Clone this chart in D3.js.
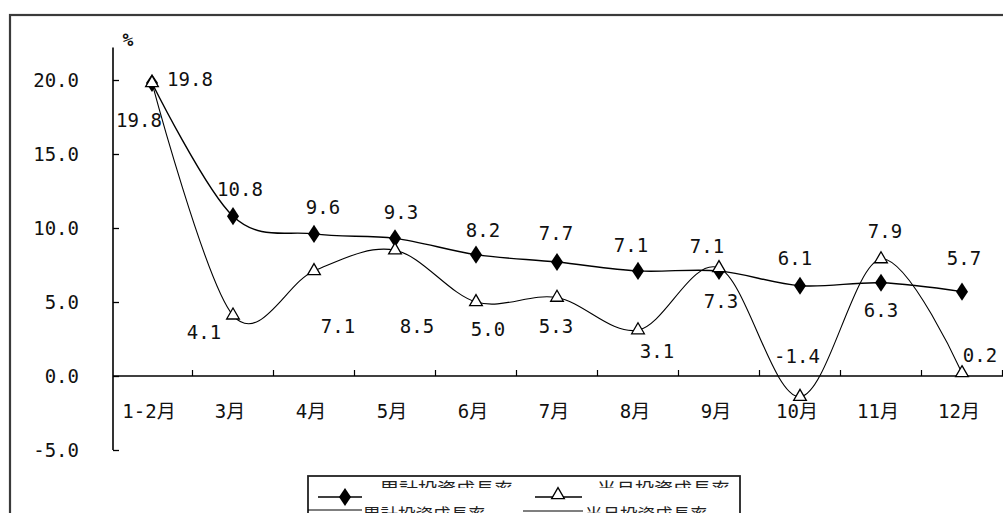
<!DOCTYPE html>
<html>
<head>
<meta charset="utf-8">
<script src="https://cdn.jsdelivr.net/npm/d3@7"></script>
<style>
  html, body { margin: 0; padding: 0; background: #fff; overflow: hidden; }
  svg { display: block; }
  .num { font-family: "DejaVu Sans Mono", "Noto Sans CJK JP", monospace; font-size: 19px; fill: #111; }
  .cjk { font-family: "Noto Sans CJK JP", sans-serif; fill: #222; }
</style>
</head>
<body>
<svg id="chart" width="1003" height="513"></svg>
<script>
// Monthly periods
const months = ["1-2月", "3月", "4月", "5月", "6月", "7月", "8月", "9月", "10月", "11月", "12月"];
// Cumulative investment growth (%)
const cumulativeGrowth = [19.8, 10.8, 9.6, 9.3, 8.2, 7.7, 7.1, 7.1, 6.1, 6.3, 5.7];
// Single-month investment growth (%)
const monthlyGrowth = [19.8, 4.1, 7.1, 8.5, 5.0, 5.3, 3.1, 7.3, -1.4, 7.9, 0.2];
// Value axis ticks
const yTicks = [20, 15, 10, 5, 0, -5];
const seriesNames = ["累計投資成長率", "当月投資成長率"];

// Hand-placed value-label offsets (dx, dy from the point to the label baseline centre)
const cumLabelOffsets = [[38, 3], [7, -20], [9, -20], [6, -19], [7, -18], [-1, -22],
                         [-7, -19], [-12, -18], [-5, -21], [0, 34], [2, -27]];
const monLabelOffsets = [[-13, 44], [-29, 24], [24, 62], [22, 83], [12, 34], [-1, 35],
                         [19, 28], [2, 40], [-3, -34], [4, -21], [18, -11]];

const svg = d3.select("#chart");

// Outer frame
svg.append("rect")
  .attr("x", 10).attr("y", 15).attr("width", 1020).attr("height", 540)
  .attr("fill", "none").attr("stroke", "#3a3a3a").attr("stroke-width", 2.2);

const axisX = 113;
const x = d3.scaleBand().domain(months).range([111.5, 1002.5]).paddingInner(0).paddingOuter(0);
const cx = d => x(d) + x.bandwidth() / 2;
const y = d3.scaleLinear().domain([-5, 20]).range([450, 80]);
const yTopValue = 22.2;

// Value axis
svg.append("line")
  .attr("x1", axisX).attr("x2", axisX)
  .attr("y1", y(yTopValue)).attr("y2", y(-5))
  .attr("stroke", "#000").attr("stroke-width", 1.6);

const yAxis = d3.axisRight(y).tickValues(yTicks).tickSize(6).tickFormat("");
const gy = svg.append("g").attr("transform", `translate(${axisX},0)`).call(yAxis);
gy.select(".domain").remove();
gy.selectAll(".tick line").attr("stroke", "#000").attr("stroke-width", 1.3);

svg.append("g").selectAll("text")
  .data(yTicks).join("text")
  .attr("class", "num")
  .attr("x", 79).attr("y", d => y(d) + 7)
  .attr("text-anchor", "end")
  .text(d => d3.format(".1f")(d).replace("−", "-"));

// Unit
svg.append("text").attr("class", "num")
  .attr("x", 128).attr("y", 46).attr("text-anchor", "middle")
  .style("font-size", "18px").style("font-weight", "bold").text("%");

// Category axis along zero
svg.append("line")
  .attr("x1", axisX).attr("x2", 1003)
  .attr("y1", y(0)).attr("y2", y(0))
  .attr("stroke", "#000").attr("stroke-width", 1.4);

const boundaries = months.slice(1).map(m => x(m)).concat([x(months[months.length - 1]) + x.bandwidth()]);
svg.append("g").selectAll("line")
  .data(boundaries).join("line")
  .attr("x1", d => d).attr("x2", d => d)
  .attr("y1", y(0) - 6).attr("y2", y(0))
  .attr("stroke", "#000").attr("stroke-width", 1.2);

svg.append("g").selectAll("text")
  .data(months).join("text")
  .attr("class", "num")
  .attr("x", d => cx(d) - 3).attr("y", 418)
  .attr("text-anchor", "middle")
  .text(d => d);

// Smoothed series lines
const line = d3.line().x((d, i) => cx(months[i])).y(d => y(d)).curve(d3.curveCatmullRom.alpha(0));

svg.append("path").datum(cumulativeGrowth).attr("d", line)
  .attr("fill", "none").attr("stroke", "#000").attr("stroke-width", 1.4);
svg.append("path").datum(monthlyGrowth).attr("d", line)
  .attr("fill", "none").attr("stroke", "#000").attr("stroke-width", 1.1);

// Markers
const diamond = d3.symbol().type(d3.symbolDiamond).size(95);
const triangle = d3.symbol().type(d3.symbolTriangle).size(70);

svg.append("g").selectAll("path")
  .data(cumulativeGrowth).join("path")
  .attr("d", diamond)
  .attr("transform", (d, i) => `translate(${cx(months[i])},${y(d)}) scale(1.15,1)`)
  .attr("fill", "#000");

svg.append("g").selectAll("path")
  .data(monthlyGrowth).join("path")
  .attr("d", triangle)
  .attr("transform", (d, i) => `translate(${cx(months[i])},${y(d)})`)
  .attr("fill", "#fff").attr("stroke", "#000").attr("stroke-width", 1.3);

// Value labels
svg.append("g").selectAll("text")
  .data(cumulativeGrowth).join("text")
  .attr("class", "num")
  .attr("x", (d, i) => cx(months[i]) + cumLabelOffsets[i][0])
  .attr("y", (d, i) => y(d) + cumLabelOffsets[i][1])
  .attr("text-anchor", "middle")
  .text(d => d3.format(".1f")(d));

svg.append("g").selectAll("text")
  .data(monthlyGrowth).join("text")
  .attr("class", "num")
  .attr("x", (d, i) => cx(months[i]) + monLabelOffsets[i][0])
  .attr("y", (d, i) => y(d) + monLabelOffsets[i][1])
  .attr("text-anchor", "middle")
  .text(d => d3.format(".1f")(d).replace("−", "-"));

// Legend
const legend = svg.append("g");
legend.append("rect")
  .attr("x", 308).attr("y", 476).attr("width", 432).attr("height", 80)
  .attr("fill", "#fff").attr("stroke", "#222").attr("stroke-width", 1.8);

const clip = svg.append("defs").append("clipPath").attr("id", "legend-top");
clip.append("rect").attr("x", 309).attr("y", 478).attr("width", 430).attr("height", 10);

const bigTitles = legend.append("g").attr("clip-path", "url(#legend-top)");
bigTitles.selectAll("text")
  .data(seriesNames).join("text")
  .attr("class", "cjk")
  .attr("x", (d, i) => [380, 597][i]).attr("y", 497)
  .style("font-size", "19px")
  .text(d => d);

// Legend keys
legend.append("line").attr("x1", 318).attr("x2", 362).attr("y1", 497).attr("y2", 497)
  .attr("stroke", "#000").attr("stroke-width", 1.4);
legend.append("path").attr("d", diamond)
  .attr("transform", "translate(345,497) scale(1.15,1)").attr("fill", "#000");
legend.append("line").attr("x1", 308).attr("x2", 362).attr("y1", 510).attr("y2", 510)
  .attr("stroke", "#000").attr("stroke-width", 1.2);

legend.append("line").attr("x1", 535).attr("x2", 582).attr("y1", 497).attr("y2", 497)
  .attr("stroke", "#000").attr("stroke-width", 1.4);
legend.append("path").attr("d", triangle)
  .attr("transform", "translate(558,495)")
  .attr("fill", "#fff").attr("stroke", "#000").attr("stroke-width", 1.3);
legend.append("line").attr("x1", 523).attr("x2", 583).attr("y1", 511).attr("y2", 511)
  .attr("stroke", "#000").attr("stroke-width", 1.2);

legend.selectAll("text.key")
  .data(seriesNames).join("text")
  .attr("class", "cjk key")
  .attr("x", (d, i) => [363, 585][i]).attr("y", 521)
  .style("font-size", "17.5px")
  .text(d => d);
</script>
</body>
</html>
